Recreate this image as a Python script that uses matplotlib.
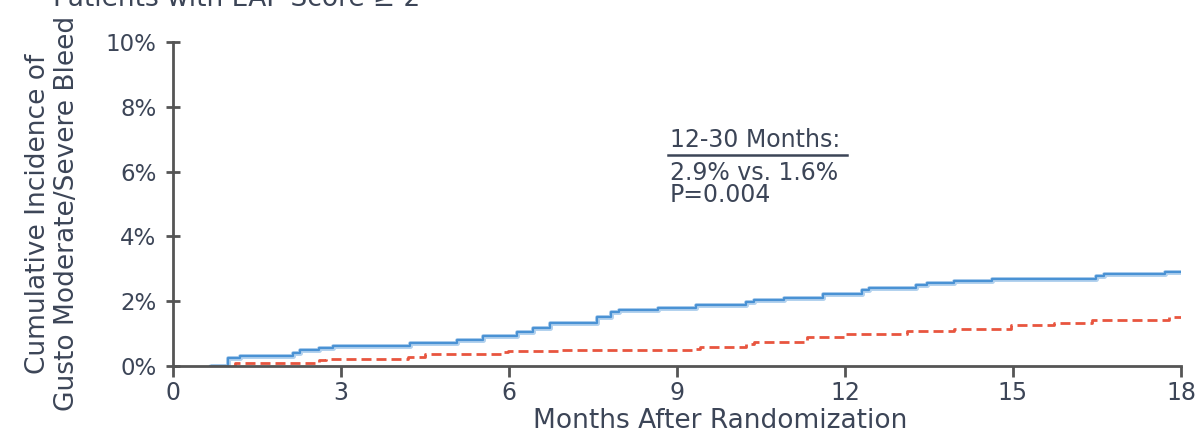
import matplotlib
matplotlib.use("Agg")
import matplotlib.pyplot as plt

# ---- data ----
blue_months = [0.66, 0.98, 1.2, 2.14, 2.27, 2.6, 2.86, 4.23, 5.07, 5.54, 6.14, 6.43, 6.73,
               7.57, 7.83, 7.97, 8.66, 9.34, 10.24, 10.37, 10.92, 11.6, 12.3, 12.43,
               13.26, 13.46, 13.94, 14.63, 16.48, 16.62, 17.72, 18.0]
blue_pct = [0.0, 0.25, 0.30, 0.40, 0.50, 0.56, 0.63, 0.72, 0.80, 0.93, 1.06, 1.17, 1.33,
            1.52, 1.67, 1.73, 1.80, 1.88, 1.99, 2.04, 2.09, 2.22, 2.35, 2.41,
            2.51, 2.56, 2.62, 2.67, 2.77, 2.85, 2.91, 2.91]

red_months = [1.07, 1.1, 2.6, 2.73, 4.2, 4.5, 5.87, 5.99, 6.88, 9.27, 9.41, 10.24, 10.37,
              11.33, 12.0, 13.1, 13.94, 14.97, 15.73, 16.41, 17.79, 18.0]
red_pct = [0.0, 0.10, 0.17, 0.23, 0.29, 0.37, 0.42, 0.46, 0.50, 0.53, 0.58, 0.68, 0.73,
           0.89, 0.99, 1.07, 1.15, 1.26, 1.34, 1.41, 1.52, 1.52]

x_ticks = [0, 3, 6, 9, 12, 15, 18]
y_ticks = [0, 2, 4, 6, 8, 10]
y_tick_labels = ["0%", "2%", "4%", "6%", "8%", "10%"]

x_label = "Months After Randomization"
y_label = "Cumulative Incidence of\nGusto Moderate/Severe Bleed"
title_text = "Patients with EAP Score \u2265 2"
annot_head = "12-30 Months:"
annot_body = "2.9% vs. 1.6%\nP=0.004"

# ---- style ----
plt.rcParams["font.family"] = ["DejaVu Sans"]
TXT = "#3c4557"
AX = "#555555"
BLUE = "#4a92d4"
BLUE_LIGHT = "#b3d2ee"
RED = "#e8553f"

fig = plt.figure(figsize=(12.02, 4.44), dpi=100)
ax = fig.add_axes([0.1439, 0.1757, 0.9825 - 0.1439, 0.9054 - 0.1757])

ax.step(blue_months, blue_pct, where="post", color=BLUE_LIGHT, lw=3.6, solid_capstyle="butt")
ax.step(blue_months, blue_pct, where="post", color=BLUE, lw=1.6)
ax.step(red_months, red_pct, where="post", color=RED, lw=2.0, ls=(0, (3.6, 1.8)))

ax.set_xlim(0, 18)
ax.set_ylim(0, 10)
ax.set_xticks(x_ticks)
ax.set_xticklabels([str(v) for v in x_ticks])
ax.set_yticks(y_ticks)
ax.set_yticklabels(y_tick_labels)

for s in ["top", "right"]:
    ax.spines[s].set_visible(False)
for s in ["left", "bottom"]:
    ax.spines[s].set_color(AX)
    ax.spines[s].set_linewidth(2)
ax.tick_params(axis="x", direction="out", length=8, width=2, color=AX,
               labelsize=17, labelcolor=TXT, pad=3)
ax.tick_params(axis="y", direction="inout", length=10, width=2, color=AX,
               labelsize=16.5, labelcolor=TXT, pad=7)

ax.set_xlabel(x_label, fontsize=19, color=TXT)
ax.xaxis.set_label_coords(0.543, -0.13)
ax.set_ylabel(y_label, fontsize=19, color=TXT, linespacing=1.15)
ax.yaxis.set_label_coords(-0.092, 0.47)

ax.text(8.87, 6.75, annot_head, fontsize=17, color=TXT, ha="left", va="baseline")
ax.plot([8.84, 12.04], [6.5, 6.5], color=TXT, lw=1.8, clip_on=False)
ax.text(8.87, 6.33, annot_body, fontsize=17, color=TXT, ha="left", va="top", linespacing=0.92)

fig.text(53 / 1202, 1 - 6 / 444, title_text, fontsize=19, color=TXT, ha="left", va="baseline")

fig.savefig("out.png", dpi=100)
